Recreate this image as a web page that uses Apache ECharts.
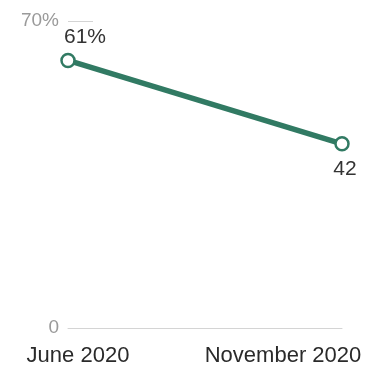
<!DOCTYPE html>
<html>
<head>
<meta charset="utf-8">
<script src="https://cdn.jsdelivr.net/npm/echarts@6/dist/echarts.min.js"></script>
<style>html,body{margin:0;padding:0;background:#fff}#c{width:376px;height:369px}</style>
</head>
<body>
<div id="c"></div>
<script>
var categories = ['June 2020', 'November 2020'];
var values = [61, 42];
var yTicks = [0, 70];
var labelSuffix = ['%', ''];

var chart = echarts.init(document.getElementById('c'));
var FONT = '"Liberation Sans", Arial, sans-serif';
chart.setOption({
  animation: false,
  grid: {left: 68, right: 34, top: 21, bottom: 41, containLabel: false},
  xAxis: {
    type: 'category',
    data: categories,
    boundaryGap: false,
    axisLine: {show: true, lineStyle: {color: '#d4d4d4', width: 1}},
    axisTick: {show: false},
    axisLabel: {
      margin: 17,
      formatter: function (v, i) { return i === 0 ? '{a|' + v + '}' : '{b|' + v + '}'; },
      rich: {
        a: {fontSize: 22, fontFamily: FONT, color: '#2a2a2a', padding: [0, 0, 0, 20]},
        b: {fontSize: 22, fontFamily: FONT, color: '#2a2a2a', padding: [0, 118, 0, 0]}
      }
    }
  },
  yAxis: {
    type: 'value',
    min: 0, max: 70, interval: 70,
    axisLine: {show: false},
    splitLine: {show: false},
    axisTick: {show: true, inside: true, length: 25, lineStyle: {color: '#d4d4d4', width: 1}},
    axisLabel: {
      margin: 9,
      fontSize: 19, fontFamily: FONT, color: '#9a9a9a',
      formatter: function (v) { return v === 70 ? v + '%' : String(v); }
    }
  },
  series: [{
    type: 'line',
    data: values.map(function (v, i) {
      return {
        value: v,
        label: i === 0
          ? {position: 'top', offset: [17, 0], distance: 5}
          : {position: 'bottom', offset: [3, 0], distance: 7}
      };
    }),
    symbol: 'circle',
    symbolSize: 13,
    lineStyle: {color: '#317a63', width: 5.5},
    itemStyle: {color: '#ffffff', borderColor: '#317a63', borderWidth: 2.5},
    label: {
      show: true,
      fontSize: 21, fontFamily: FONT, color: '#333333',
      formatter: function (p) { return p.value + labelSuffix[p.dataIndex]; }
    }
  }]
});
</script>
</body>
</html>
